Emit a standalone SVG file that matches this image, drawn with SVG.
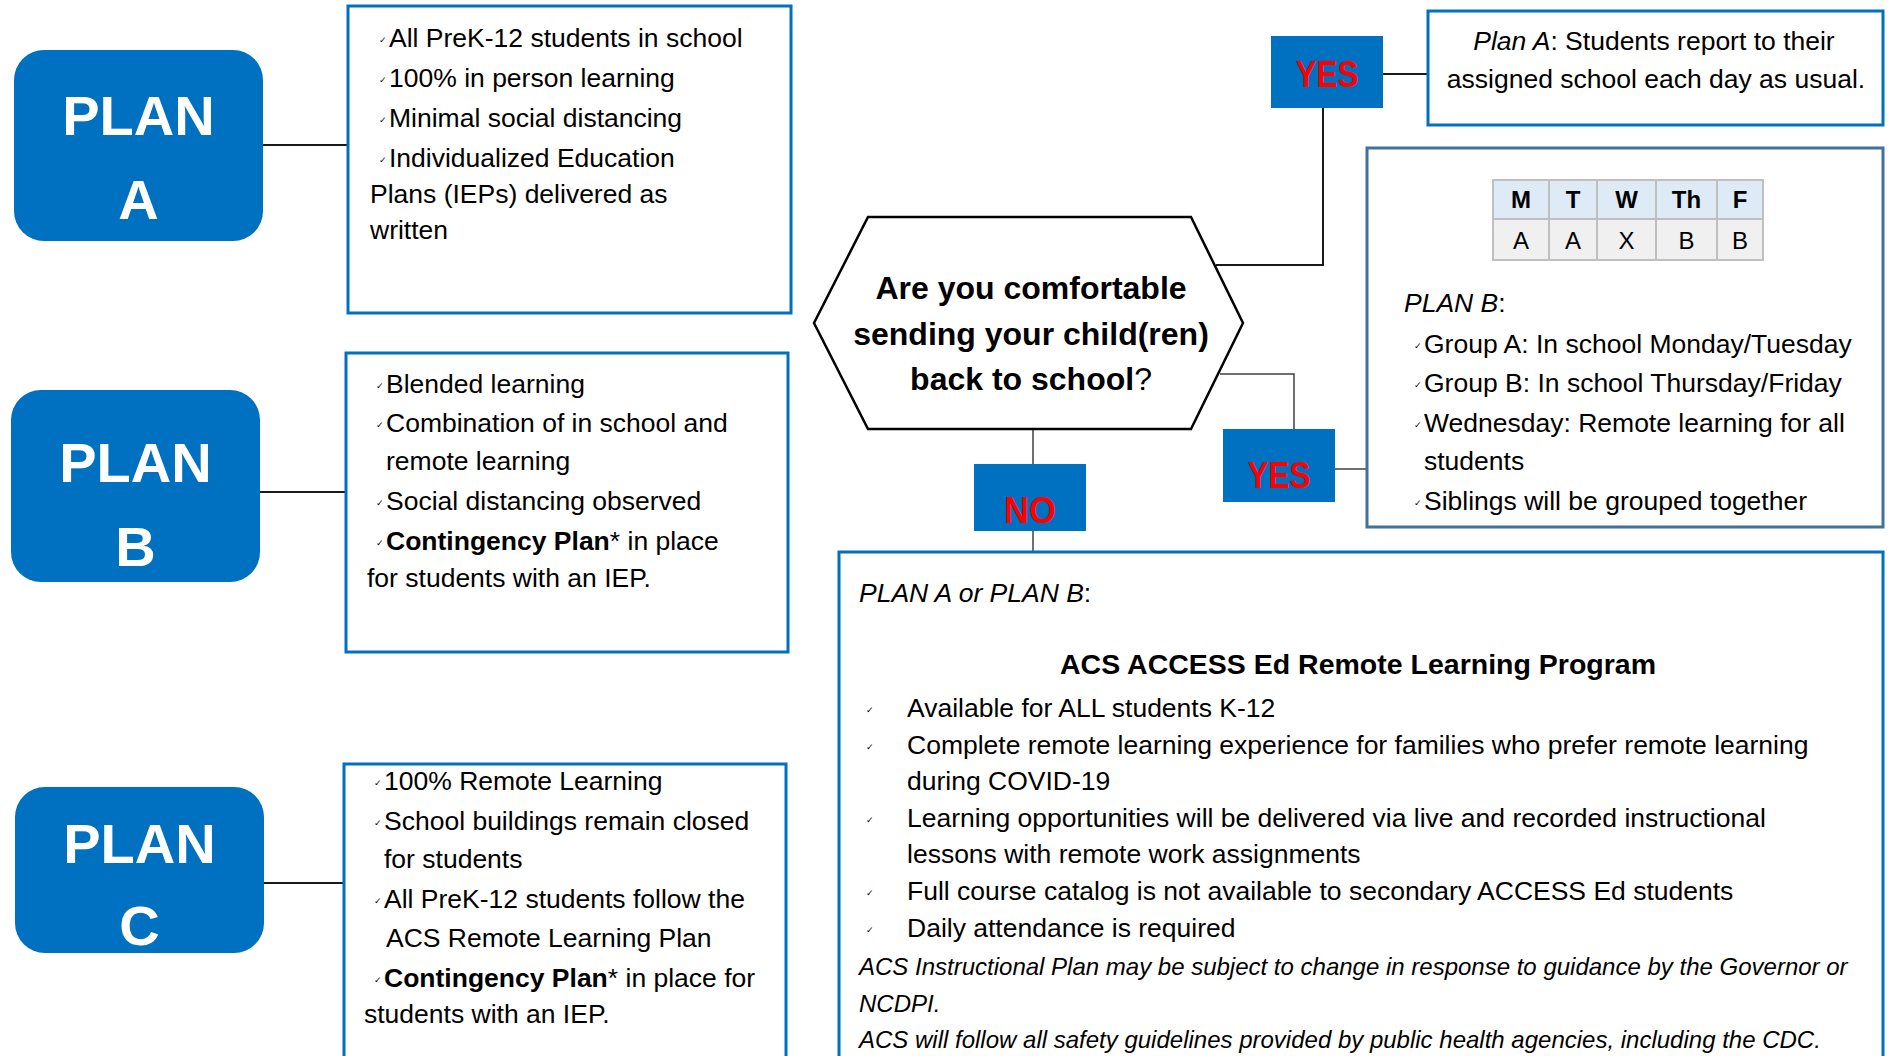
<svg xmlns="http://www.w3.org/2000/svg" width="1891" height="1056" viewBox="0 0 1891 1056">
<style>
  .plan { fill: #0070C0; }
  .plant { font-family: "Liberation Sans", Arial, sans-serif; font-weight: bold; font-size: 56px; fill: #ffffff; text-anchor: middle; }
  .box { fill: #ffffff; stroke: #0070C0; stroke-width: 3; }
  .boxg { fill: #ffffff; stroke: #41719C; stroke-width: 3; }
  .t { font-family: "Liberation Sans", Arial, sans-serif; font-size: 26.5px; fill: #000000; }
  .title { font-family: "Liberation Sans", Arial, sans-serif; font-size: 28.5px; font-weight: bold; fill: #000000; text-anchor: middle; }
  .ck { font-family: "DejaVu Sans", sans-serif; font-size: 9px; fill: #000000; }
  .hex { fill: #ffffff; stroke: #000000; stroke-width: 2.5; }
  .q { font-family: "Liberation Sans", Arial, sans-serif; font-size: 32px; font-weight: bold; fill: #000000; text-anchor: middle; }
  .yn { fill: #0070C0; }
  .ynt { font-family: "Liberation Sans", Arial, sans-serif; font-size: 37px; font-weight: bold; fill: #FF0000; text-anchor: middle; }
  .note { font-family: "Liberation Sans", Arial, sans-serif; font-size: 24px; font-style: italic; fill: #000000; }
  .th { fill: #DEEAF6; stroke: #BFBFBF; stroke-width: 2; }
  .td { fill: #F0F0F0; stroke: #BFBFBF; stroke-width: 2; }
  .tt { font-family: "Liberation Sans", Arial, sans-serif; font-size: 24px; fill: #000000; text-anchor: middle; }
  .conn { fill: none; stroke: #1a1a1a; stroke-width: 2; }
  .connt { fill: none; stroke: #404040; stroke-width: 1.5; }
</style>

<g id="connectors">
  <line class="conn" x1="263" y1="145" x2="348" y2="145"/>
  <line class="conn" x1="260" y1="492" x2="346" y2="492"/>
  <line class="conn" x1="264" y1="883" x2="344" y2="883"/>
  <polyline class="conn" points="1216,265 1323,265 1323,108"/>
  <line class="conn" x1="1383" y1="74" x2="1428" y2="74"/>
  <polyline class="connt" points="1220,374 1294,374 1294,429"/>
  <line class="connt" x1="1335" y1="469" x2="1367" y2="469"/>
  <line class="connt" x1="1033" y1="429" x2="1033" y2="464"/>
  <line class="connt" x1="1033" y1="531" x2="1033" y2="552"/>
</g>

<g id="planA">
  <rect class="plan" x="14" y="50" width="249" height="191" rx="30" ry="30"/>
  <text class="plant" x="138.5" y="135">PLAN</text>
  <text class="plant" x="138.5" y="219">A</text>
</g>

<g id="planB">
  <rect class="plan" x="11" y="390" width="249" height="192" rx="30" ry="30"/>
  <text class="plant" x="135.5" y="482">PLAN</text>
  <text class="plant" x="135.5" y="566">B</text>
</g>

<g id="planC">
  <rect class="plan" x="15" y="787" width="249" height="166" rx="30" ry="30"/>
  <text class="plant" x="139.5" y="863">PLAN</text>
  <text class="plant" x="139.5" y="945">C</text>
</g>

<g id="planA-details">
  <rect class="box" x="348" y="6" width="443" height="307"/>
  <text class="ck" x="379" y="43">✓</text>
  <text class="t" x="389" y="47">All PreK-12 students in school</text>
  <text class="ck" x="379" y="83">✓</text>
  <text class="t" x="389" y="87">100% in person learning</text>
  <text class="ck" x="379" y="123">✓</text>
  <text class="t" x="389" y="127">Minimal social distancing</text>
  <text class="ck" x="379" y="163">✓</text>
  <text class="t" x="389" y="167">Individualized Education</text>
  <text class="t" x="370" y="203">Plans (IEPs) delivered as</text>
  <text class="t" x="370" y="239">written</text>
</g>

<g id="planB-details">
  <rect class="box" x="346" y="353" width="442" height="299"/>
  <text class="ck" x="376" y="389">✓</text>
  <text class="t" x="386" y="393">Blended learning</text>
  <text class="ck" x="376" y="428">✓</text>
  <text class="t" x="386" y="432">Combination of in school and</text>
  <text class="t" x="386" y="470">remote learning</text>
  <text class="ck" x="376" y="506">✓</text>
  <text class="t" x="386" y="510">Social distancing observed</text>
  <text class="ck" x="376" y="546">✓</text>
  <text class="t" x="386" y="550"><tspan font-weight="bold">Contingency Plan</tspan>* in place</text>
  <text class="t" x="367" y="587">for students with an IEP.</text>
</g>

<g id="planC-details">
  <rect class="box" x="344" y="764" width="442" height="310"/>
  <text class="ck" x="374" y="786">✓</text>
  <text class="t" x="384" y="790">100% Remote Learning</text>
  <text class="ck" x="374" y="826">✓</text>
  <text class="t" x="384" y="830">School buildings remain closed</text>
  <text class="t" x="384" y="868">for students</text>
  <text class="ck" x="374" y="904">✓</text>
  <text class="t" x="384" y="908">All PreK-12 students follow the</text>
  <text class="t" x="386" y="947">ACS Remote Learning Plan</text>
  <text class="ck" x="374" y="983">✓</text>
  <text class="t" x="384" y="987"><tspan font-weight="bold">Contingency Plan</tspan>* in place for</text>
  <text class="t" x="364" y="1023">students with an IEP.</text>
</g>

<g id="question">
  <polygon class="hex" points="868,217 1191,217 1243,323 1191,429 868,429 814,323"/>
  <text class="q" x="1031" y="299">Are you comfortable</text>
  <text class="q" x="1031" y="345">sending your child(ren)</text>
  <text class="q" x="1031" y="390">back to school<tspan font-weight="normal">?</tspan></text>
</g>

<g id="yes-top">
  <rect class="yn" x="1271" y="36" width="112" height="72"/>
  <text class="ynt" x="1327" y="87" textLength="63" lengthAdjust="spacingAndGlyphs">YES</text>
</g>

<g id="yes-bottom">
  <rect class="yn" x="1223" y="429" width="112" height="73"/>
  <text class="ynt" x="1279" y="488" textLength="63" lengthAdjust="spacingAndGlyphs">YES</text>
</g>

<g id="no">
  <rect class="yn" x="974" y="464" width="112" height="67"/>
  <text class="ynt" x="1030" y="523" textLength="52" lengthAdjust="spacingAndGlyphs">NO</text>
</g>

<g id="planA-yes">
  <rect class="box" x="1428" y="11" width="455" height="114"/>
  <text class="t" x="1654" y="50" text-anchor="middle"><tspan font-style="italic">Plan A</tspan>: Students report to their</text>
  <text class="t" x="1656" y="88" text-anchor="middle">assigned school each day as usual.</text>
</g>

<g id="planB-yes">
  <rect class="boxg" x="1367" y="148" width="516" height="379"/>
  <g id="schedule">
    <rect class="th" x="1493" y="180" width="56" height="39"/>
    <rect class="th" x="1549" y="180" width="48" height="39"/>
    <rect class="th" x="1597" y="180" width="59" height="39"/>
    <rect class="th" x="1656" y="180" width="61" height="39"/>
    <rect class="th" x="1717" y="180" width="46" height="39"/>
    <rect class="td" x="1493" y="219" width="56" height="41"/>
    <rect class="td" x="1549" y="219" width="48" height="41"/>
    <rect class="td" x="1597" y="219" width="59" height="41"/>
    <rect class="td" x="1656" y="219" width="61" height="41"/>
    <rect class="td" x="1717" y="219" width="46" height="41"/>
    <text class="tt" font-weight="bold" x="1521" y="208">M</text>
    <text class="tt" font-weight="bold" x="1573" y="208">T</text>
    <text class="tt" font-weight="bold" x="1626.5" y="208">W</text>
    <text class="tt" font-weight="bold" x="1686.5" y="208">Th</text>
    <text class="tt" font-weight="bold" x="1740" y="208">F</text>
    <text class="tt" x="1521" y="249">A</text>
    <text class="tt" x="1573" y="249">A</text>
    <text class="tt" x="1626.5" y="249">X</text>
    <text class="tt" x="1686.5" y="249">B</text>
    <text class="tt" x="1740" y="249">B</text>
  </g>
  <text class="t" x="1404" y="312"><tspan font-style="italic">PLAN B</tspan>:</text>
  <text class="ck" x="1414" y="349">✓</text>
  <text class="t" x="1424" y="353">Group A: In school Monday/Tuesday</text>
  <text class="ck" x="1414" y="388">✓</text>
  <text class="t" x="1424" y="392">Group B: In school Thursday/Friday</text>
  <text class="ck" x="1414" y="428">✓</text>
  <text class="t" x="1424" y="432">Wednesday: Remote learning for all</text>
  <text class="t" x="1424" y="470">students</text>
  <text class="ck" x="1414" y="506">✓</text>
  <text class="t" x="1424" y="510">Siblings will be grouped together</text>
</g>

<g id="remote-program">
  <rect class="box" x="839" y="552" width="1044" height="520"/>
  <text class="t" x="859" y="602"><tspan font-style="italic">PLAN A or PLAN B</tspan>:</text>
  <text class="title" x="1358" y="674">ACS ACCESS Ed Remote Learning Program</text>
  <text class="ck" x="866" y="713">✓</text>
  <text class="t" x="907" y="717">Available for ALL students K-12</text>
  <text class="ck" x="866" y="750">✓</text>
  <text class="t" x="907" y="754">Complete remote learning experience for families who prefer remote learning</text>
  <text class="t" x="907" y="790">during COVID-19</text>
  <text class="ck" x="866" y="823">✓</text>
  <text class="t" x="907" y="827">Learning opportunities will be delivered via live and recorded instructional</text>
  <text class="t" x="907" y="863">lessons with remote work assignments</text>
  <text class="ck" x="866" y="896">✓</text>
  <text class="t" x="907" y="900">Full course catalog is not available to secondary ACCESS Ed students</text>
  <text class="ck" x="866" y="933">✓</text>
  <text class="t" x="907" y="937">Daily attendance is required</text>
  <text class="note" x="859" y="975">ACS Instructional Plan may be subject to change in response to guidance by the Governor or</text>
  <text class="note" x="859" y="1012">NCDPI.</text>
  <text class="note" x="859" y="1048">ACS will follow all safety guidelines provided by public health agencies, including the CDC.</text>
</g>
</svg>
